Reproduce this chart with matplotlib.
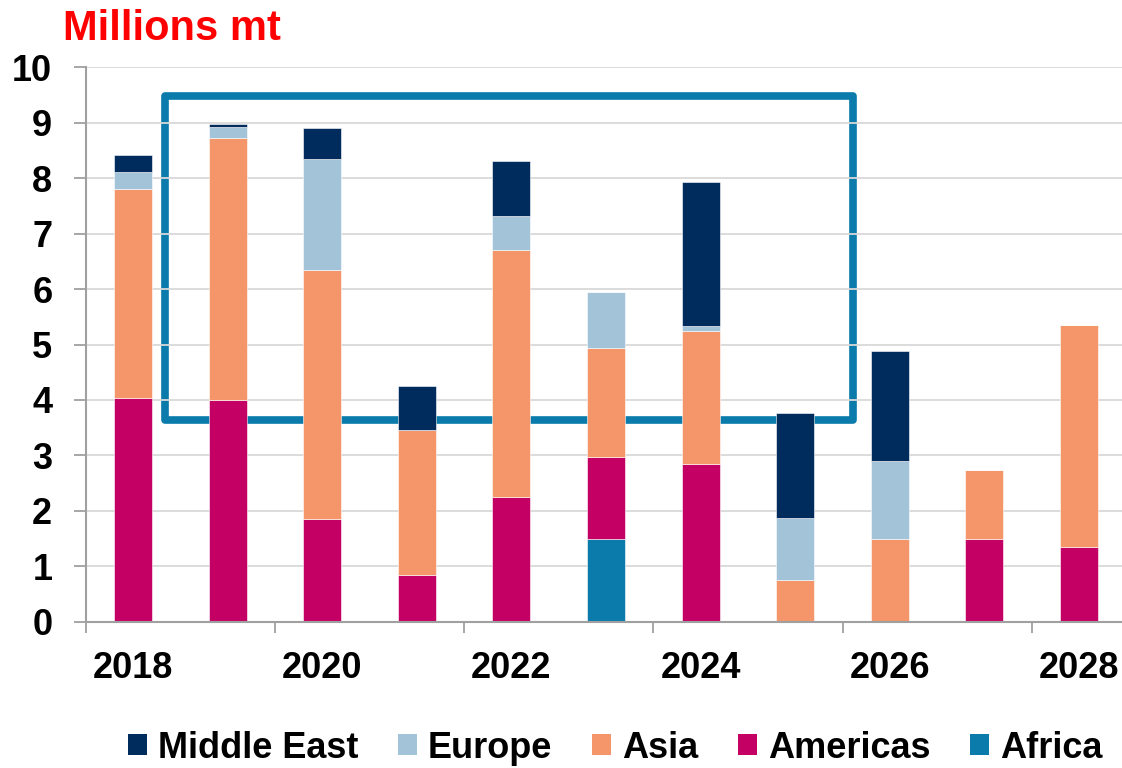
import matplotlib
matplotlib.use("Agg")
import matplotlib.pyplot as plt
from matplotlib.patches import Rectangle, Patch
import numpy as np

plt.rcParams['font.family'] = ['Liberation Sans', 'DejaVu Sans']
plt.rcParams['font.weight'] = 'bold'

years = ["2018", "2019", "2020", "2021", "2022", "2023", "2024", "2025", "2026", "2027", "2028"]
africa      = [0.00, 0.00, 0.00, 0.00, 0.00, 1.49, 0.00, 0.00, 0.00, 0.00, 0.00]
americas    = [4.03, 3.99, 1.85, 0.84, 2.25, 1.48, 2.85, 0.00, 0.00, 1.49, 1.35]
asia        = [3.77, 4.74, 4.49, 2.62, 4.46, 1.97, 2.39, 0.76, 1.49, 1.25, 4.01]
europe      = [0.31, 0.19, 2.01, 0.00, 0.60, 1.00, 0.10, 1.11, 1.40, 0.00, 0.00]
middle_east = [0.30, 0.05, 0.55, 0.79, 1.00, 0.00, 2.60, 1.89, 2.00, 0.00, 0.00]

series = [("Africa", africa, "#0A7BAA"),
          ("Americas", americas, "#C40064"),
          ("Asia", asia, "#F5966A"),
          ("Europe", europe, "#A3C3D9"),
          ("Middle East", middle_east, "#002B5D")]
legend_order = ["Middle East", "Europe", "Asia", "Americas", "Africa"]

W, H = 1122, 768
fig = plt.figure(figsize=(W / 100, H / 100), dpi=100)
ax = fig.add_axes([85.7 / W, 1 - 621.7 / H, 1 - 85.7 / W, (621.7 - 67.3) / H])

x = np.arange(len(years))
bottom = np.zeros(len(years))
colors = {}
for name, vals, col in series:
    v = np.array(vals)
    ax.bar(x, v, width=0.40, bottom=bottom, color=col, edgecolor="white",
           linewidth=0.4, zorder=3)
    bottom += v
    colors[name] = col

# highlight box
rect = Rectangle((0.338, 3.63), 7.608 - 0.338, 9.49 - 3.63, fill=False,
                 edgecolor="#0A7BAA", linewidth=5.5, joinstyle="round", zorder=1)
ax.add_patch(rect)

ax.set_xlim(-0.5, -0.5 + (W - 85.7) / 94.6)
ax.set_ylim(0, 10)
ax.set_yticks(np.arange(0, 11, 1))
ax.yaxis.grid(True, color="#D9D9D9", linewidth=1.3, zorder=2)
ax.set_axisbelow(False)
for gl in ax.get_ygridlines():
    gl.set_zorder(2)

ax.set_xticks(x[::2])
ax.set_xticklabels(years[::2])
ax.set_xticks(np.arange(-0.5, 11, 2), minor=True)
ax.tick_params(axis="x", which="major", length=0, pad=21, labelsize=26)
ax.tick_params(axis="x", which="minor", length=8, width=1.3, color="#A0A0A0", direction="out")
ax.tick_params(axis="y", which="major", length=9, width=1.3, color="#A0A0A0",
               direction="out", pad=15, labelsize=26)

for s in ["top", "right"]:
    ax.spines[s].set_visible(False)
for s in ["left", "bottom"]:
    ax.spines[s].set_color("#A0A0A0")
    ax.spines[s].set_linewidth(1.5)
    ax.spines[s].set_zorder(4)

fig.text(63 / W, 1 - 40 / H, "Millions mt", color="#FF0000", fontsize=30,
         fontweight="bold", ha="left", va="baseline")

handles = [Patch(facecolor=colors[n], edgecolor="none", label=n) for n in legend_order]
fig.legend(handles=handles, loc="center", bbox_to_anchor=(615 / W, 1 - 748 / H),
           ncol=5, frameon=False, fontsize=26, handlelength=0.53, handleheight=0.53,
           handletextpad=0.3, columnspacing=1.1, borderpad=0, borderaxespad=0)

fig.savefig("out.png", dpi=100)
